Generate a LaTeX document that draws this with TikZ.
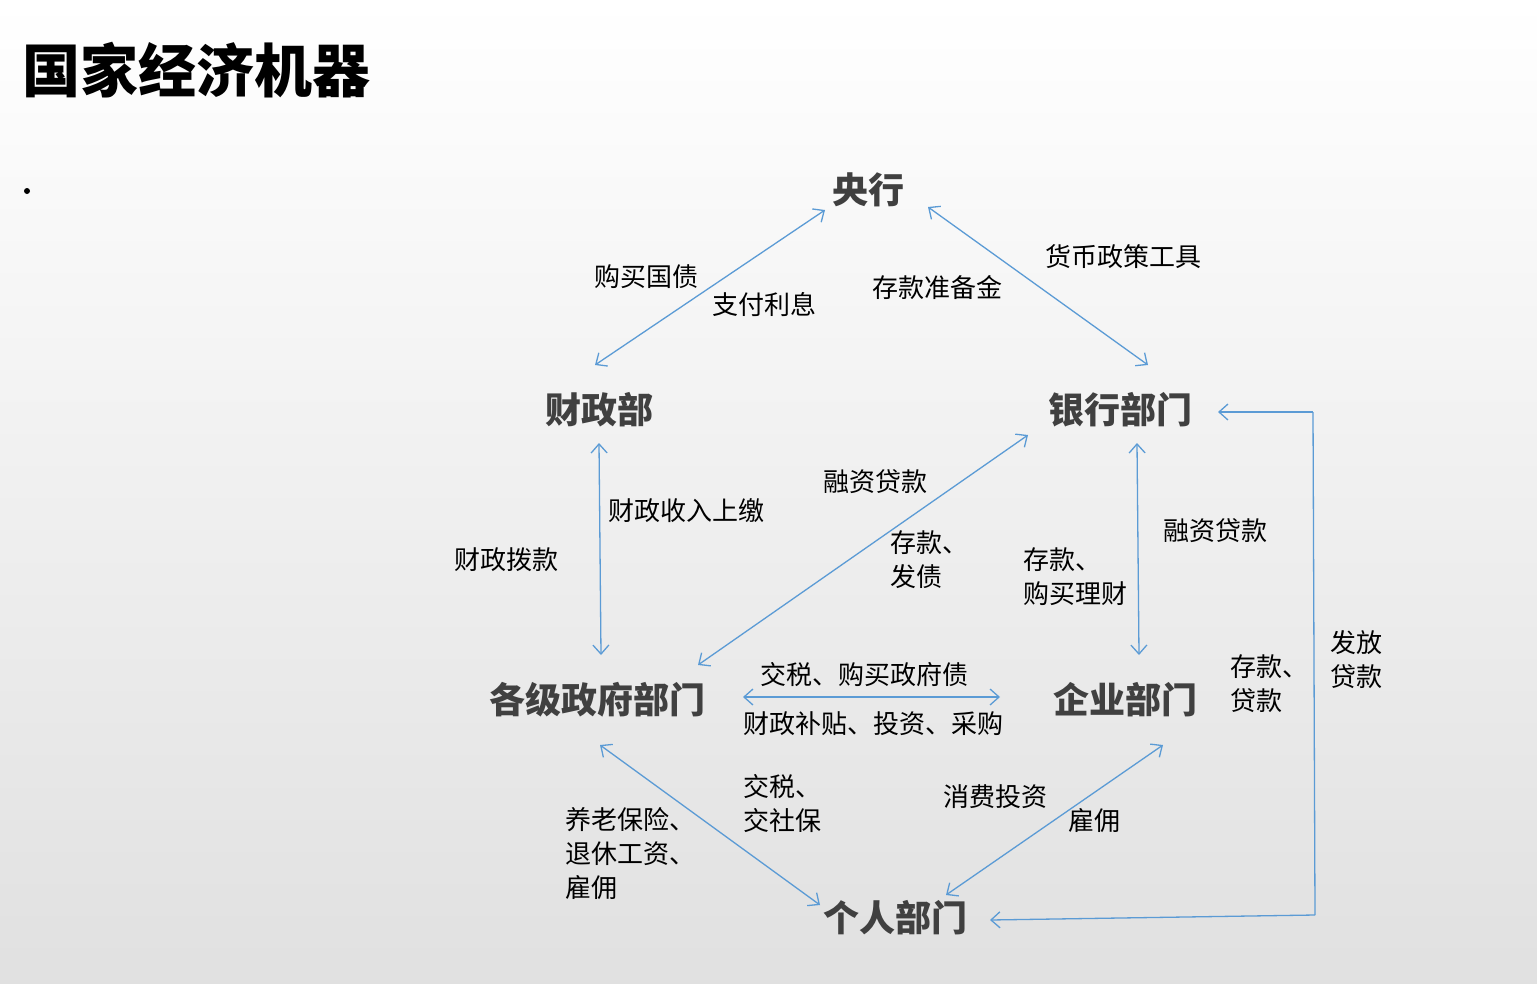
\documentclass[tikz,border=0pt]{standalone}
\usepackage{fontspec}
\setmainfont{Noto Sans CJK SC}
\usetikzlibrary{arrows.meta}
\definecolor{ln}{RGB}{91,155,213}
\definecolor{tx}{RGB}{64,64,64}
\tikzset{
 lab/.style={anchor=west,align=left,inner sep=0pt,font=\fontsize{26}{34}\selectfont,text=black},
 big/.style={inner sep=2pt,font=\fontsize{36}{40}\selectfont\bfseries,text=tx},
 con/.style={draw=ln,line width=1.3pt,{Straight Barb[length=9pt,width=16pt]}-{Straight Barb[length=9pt,width=16pt]}},
 one/.style={draw=ln,line width=1.3pt,-{Straight Barb[length=9pt,width=16pt]}}
}
\begin{document}
\begin{tikzpicture}[x=1pt,y=-1pt]
\shade[top color=white,bottom color=black!12] (0,0) rectangle (1537,983);
\useasboundingbox (0,0) rectangle (1537,983);
\node[anchor=west,inner sep=0pt,font=\fontsize{58}{60}\selectfont\bfseries] (title) at (22,70) {国家经济机器};
\fill (27,191) circle (3);
\node[big] (cb) at (868,190) {央行};
\node[big] (mof) at (599,410) {财政部};
\node[big] (bank) at (1120,410) {银行部门};
\node[big] (gov) at (597,700) {各级政府部门};
\node[big] (ent) at (1125,700) {企业部门};
\node[big] (ind) at (895,918) {个人部门};
\coordinate (a1) at (595,365); \coordinate (a2) at (825,210);
\draw[con] (a1) -- (a2);
\coordinate (b1) at (928,207); \coordinate (b2) at (1148,365);
\draw[con] (b1) -- (b2);
\coordinate (c1) at (599,443); \coordinate (c2) at (601,655);
\draw[con] (c1) -- (c2);
\coordinate (d1) at (1028,435); \coordinate (d2) at (698,665);
\draw[con] (d1) -- (d2);
\coordinate (e1) at (1137,443); \coordinate (e2) at (1139,655);
\draw[con] (e1) -- (e2);
\coordinate (f1) at (743,697); \coordinate (f2) at (1000,697);
\draw[con] (f1) -- (f2);
\coordinate (g1) at (600,745); \coordinate (g2) at (820,905);
\draw[con] (g1) -- (g2);
\coordinate (h1) at (1163,745); \coordinate (h2) at (946,895);
\draw[con] (h1) -- (h2);
\coordinate (r1) at (1313,412); \coordinate (r2) at (1315,915);
\coordinate (rb) at (1218,412); \coordinate (ri) at (990,920);
\draw[one] (r1) -- (rb);
\draw[draw=ln,line width=1.3pt] (r1) -- (r2);
\draw[one] (r2) -- (ri);
\node[lab] at (594,277) {购买国债};
\node[lab] at (712,305) {支付利息};
\node[lab] at (872,288) {存款准备金};
\node[lab] at (1045,257) {货币政策工具};
\node[lab] at (608,511) {财政收入上缴};
\node[lab] at (454,560) {财政拨款};
\node[lab] at (823,482) {融资贷款};
\node[lab] at (890,560) {存款、\\发债};
\node[lab] at (1023,577) {存款、\\购买理财};
\node[lab] at (1163,531) {融资贷款};
\node[lab] at (1330,660) {发放\\贷款};
\node[lab] at (1230,684) {存款、\\贷款};
\node[lab] at (760,675) {交税、购买政府债};
\node[lab] at (743,724) {财政补贴、投资、采购};
\node[lab] at (743,804) {交税、\\交社保};
\node[lab] at (565,854) {养老保险、\\退休工资、\\雇佣};
\node[lab] at (943,797) {消费投资};
\node[lab] at (1068,821) {雇佣};
\end{tikzpicture}
\end{document}
